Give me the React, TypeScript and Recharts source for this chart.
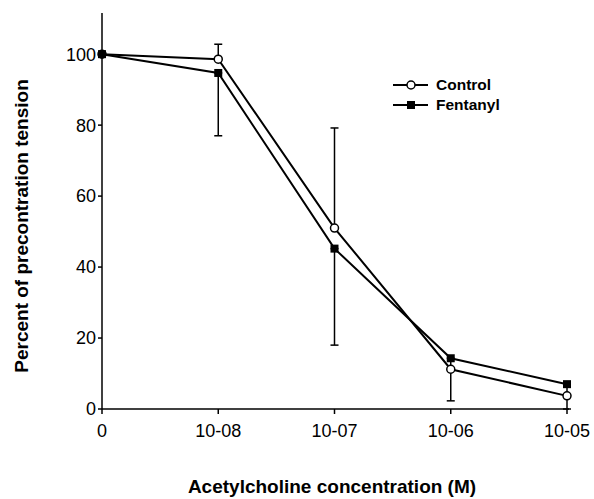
import { LineChart, Line, XAxis, YAxis, ErrorBar, Legend } from "recharts";

const categories = ["0", "10-08", "10-07", "10-06", "10-05"];
const control = [100, 98.6, 51, 11.2, 3.7];
const fentanyl = [100, 94.7, 45.2, 14.3, 7];
// [below, above] the mean
const controlErr: ([number, number] | null)[] = [null, [0, 4.2], [0, 28.2], null, null];
const fentanylErr: ([number, number] | null)[] = [null, [17.7, 0], [27.2, 0], [12, 0], [7, 0]];
const yTicks = [0, 20, 40, 60, 80, 100];

const FONT = '"Liberation Sans", Arial, sans-serif';

const chartData = categories.map((cat, i) => ({
  cat,
  Control: control[i],
  Fentanyl: fentanyl[i],
  controlErr: controlErr[i],
  fentanylErr: fentanylErr[i],
}));

const SquareDot = (props: any) => {
  const { cx, cy, index } = props;
  if (cx == null || cy == null) return null;
  return <rect key={`sq-${index}`} x={cx - 4} y={cy - 4} width={8} height={8} fill="#000" />;
};

const LegendContent = () => (
  <div style={{ fontFamily: FONT, fontWeight: "bold", fontSize: 15.5, color: "#000" }}>
    <div style={{ display: "flex", alignItems: "center", height: 20 }}>
      <svg width={40} height={12}>
        <line x1={1} y1={6} x2={36} y2={6} stroke="#000" strokeWidth={2} />
        <circle cx={19} cy={6} r={4} fill="#fff" stroke="#000" strokeWidth={1.5} />
      </svg>
      <span style={{ marginLeft: 4 }}>Control</span>
    </div>
    <div style={{ display: "flex", alignItems: "center", height: 20 }}>
      <svg width={40} height={12}>
        <line x1={1} y1={6} x2={36} y2={6} stroke="#000" strokeWidth={2} />
        <rect x={15} y={2} width={8} height={8} fill="#000" />
      </svg>
      <span style={{ marginLeft: 4 }}>Fentanyl</span>
    </div>
  </div>
);

export default function App() {
  return (
    <div style={{ position: "absolute", left: 0, top: 0, width: 594, height: 499, background: "#fff" }}>
      <LineChart
        width={594}
        height={499}
        data={chartData}
        margin={{ top: 13, right: 25, left: 62, bottom: 60 }}
      >
        <XAxis
          dataKey="cat"
          padding={{ left: 0, right: 2 }}
          height={30}
          tickSize={5}
          tickMargin={10}
          stroke="#000"
          strokeWidth={1.5}
          tick={{ fill: "#000", fontSize: 18, fontFamily: FONT }}
        />
        <YAxis
          domain={[0, 111.6]}
          ticks={yTicks}
          width={40}
          tickSize={4}
          tickMargin={2}
          stroke="#000"
          strokeWidth={1.5}
          tick={{ fill: "#000", fontSize: 18, fontFamily: FONT }}
        />
        <Legend
          verticalAlign="middle"
          layout="horizontal"
          content={<LegendContent />}
          wrapperStyle={{ left: 392, top: 75, width: 130 }}
        />
        <Line
          dataKey="Control"
          stroke="#000"
          strokeWidth={2}
          dot={{ r: 4, fill: "#fff", stroke: "#000", strokeWidth: 1.5 }}
          isAnimationActive={false}
        >
          <ErrorBar dataKey="controlErr" direction="y" width={4} stroke="#000" strokeWidth={1.5} />
        </Line>
        <Line
          dataKey="Fentanyl"
          stroke="#000"
          strokeWidth={2}
          dot={<SquareDot />}
          isAnimationActive={false}
        >
          <ErrorBar dataKey="fentanylErr" direction="y" width={4} stroke="#000" strokeWidth={1.5} />
        </Line>
      </LineChart>
      <div
        style={{
          position: "absolute",
          left: 22,
          top: 226,
          transform: "translate(-50%, -50%) rotate(-90deg)",
          whiteSpace: "nowrap",
          fontFamily: FONT,
          fontWeight: "bold",
          fontSize: 19,
          color: "#000",
        }}
      >
        Percent of precontration tension
      </div>
      <div
        style={{
          position: "absolute",
          left: 332,
          top: 487,
          transform: "translate(-50%, -50%)",
          whiteSpace: "nowrap",
          fontFamily: FONT,
          fontWeight: "bold",
          fontSize: 19,
          color: "#000",
        }}
      >
        Acetylcholine concentration (M)
      </div>
    </div>
  );
}
